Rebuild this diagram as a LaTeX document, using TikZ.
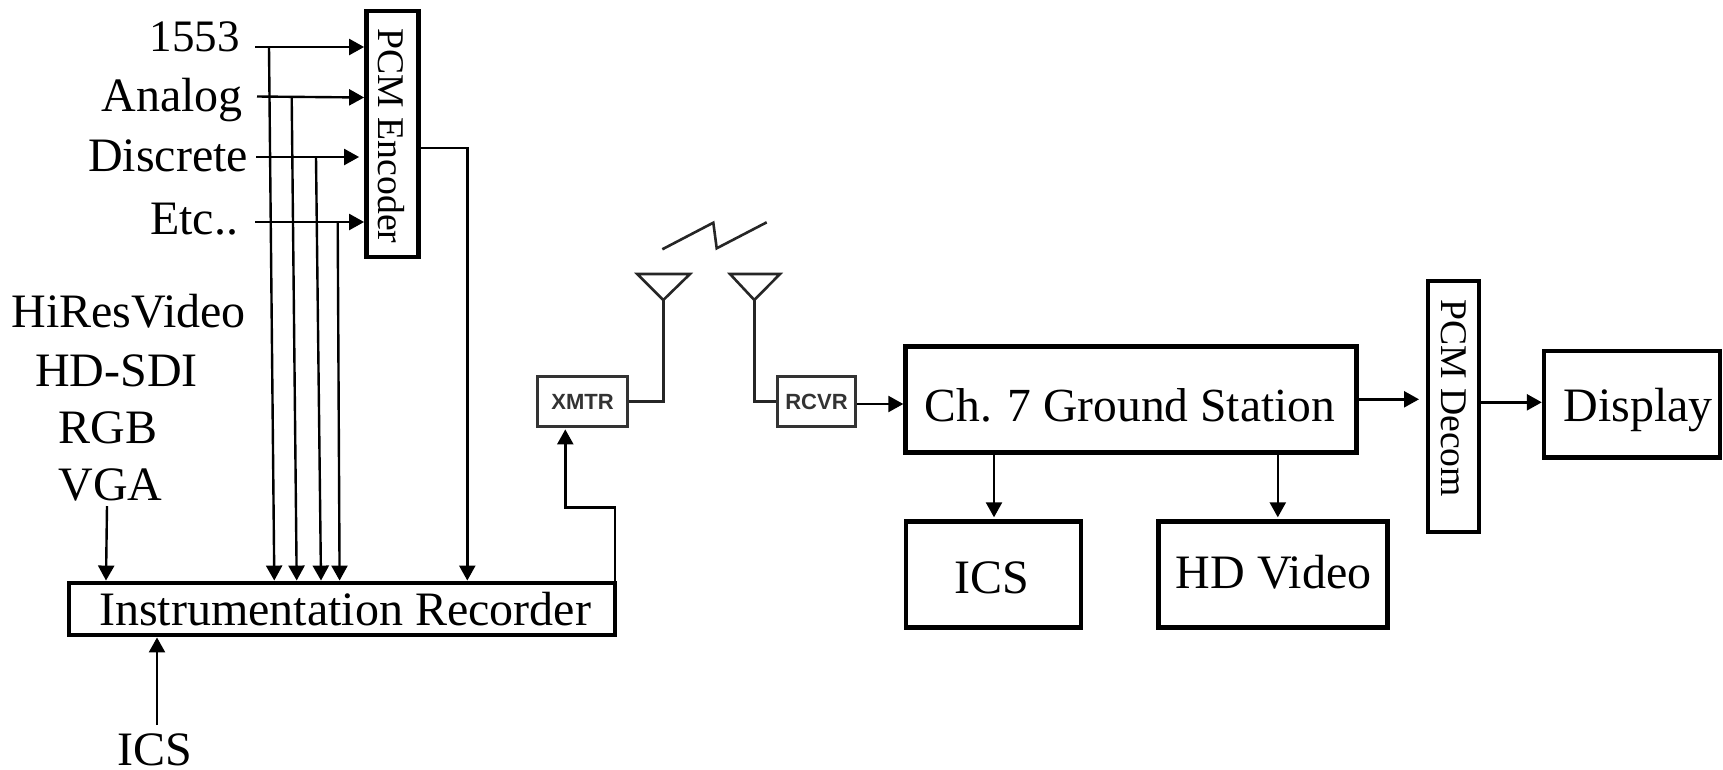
\documentclass[tikz,border=0pt]{standalone}
\usepackage{fontspec}
\setmainfont{Liberation Serif}
\newfontfamily\lsans{Liberation Sans}
\usetikzlibrary{arrows.meta}
\tikzset{
 x=1pt,y=-1pt,
 box/.style={draw=black,line width=4.4pt,inner sep=0pt},
 smallbox/.style={draw=black!80,line width=3.4pt,inner sep=0pt,font=\lsans\bfseries\fontsize{22}{22}\selectfont,text=black!80},
 lbl/.style={inner sep=0pt,anchor=base,font=\fontsize{48}{48}\selectfont},
 vlbl/.style={inner sep=0pt,rotate=-90,font=\fontsize{37.7}{38}\selectfont},
 arr/.style={line width=2.4pt,black,-{Triangle[length=15pt,width=16pt]}},
 ant/.style={line width=2.6pt,black!85,line join=miter},
}
\begin{document}
\begin{tikzpicture}
\useasboundingbox (0,0) rectangle (1723,769);
% boxes
\node[box,minimum width=52pt,minimum height=246pt] (pcm) at (392.3,134) {};
\node[vlbl] (pcmt) at (391,136) {PCM Encoder};
\node[box,minimum width=546pt,minimum height=52.5pt] (rec) at (342,609) {};
\node[lbl] (rect) at (345,625) {Instrumentation Recorder};
\node[smallbox,minimum width=90pt,minimum height=50pt] (xmtr) at (582.5,401.7) {XMTR};
\node[smallbox,minimum width=78pt,minimum height=50pt] (rcvr) at (816.5,401.7) {RCVR};
\node[box,minimum width=451pt,minimum height=106pt] (gs) at (1131,399.3) {};
\node[lbl,font=\fontsize{47.5}{48}\selectfont] (gst) at (1130,421.5) {Ch. 7 Ground Station};
\node[box,minimum width=175pt,minimum height=106pt] (ics2) at (993.7,574.5) {};
\node[lbl] (ics2t) at (992,593) {ICS};
\node[box,minimum width=229pt,minimum height=106pt] (hd) at (1273,574.5) {};
\node[lbl] (hdt) at (1273.6,588) {HD Video};
\node[box,minimum width=51pt,minimum height=251pt] (dec) at (1453.7,406.5) {};
\node[vlbl] (dect) at (1454,398) {PCM Decom};
\node[box,minimum width=176pt,minimum height=106.5pt] (dis) at (1632,404.3) {};
\node[lbl] (dist) at (1638,421) {Display};
% labels
\node[lbl,font=\fontsize{45}{45}\selectfont] (l1) at (194.5,51) {1553};
\node[lbl] (l2) at (172,111) {Analog};
\node[lbl] (l3) at (168,171) {Discrete};
\node[lbl] (l4) at (194,234) {Etc..};
\node[lbl] (h1) at (128.6,327) {HiResVideo};
\node[lbl] (h2) at (116.5,386) {HD-SDI};
\node[lbl] (h3) at (108,443) {RGB};
\node[lbl] (h4) at (110.4,500) {VGA};
\node[lbl] (ics1) at (155,765) {ICS};
% free ends
\coordinate (s1) at (255,47);
\coordinate (s2) at (257,96.5);
\coordinate (s3) at (256,157);
\coordinate (s4) at (255,222);
\coordinate (e2) at (360,97.5);
\coordinate (j1) at (269,47);
\coordinate (j2) at (291.7,97);
\coordinate (j3) at (316,157);
\coordinate (j4) at (337.7,222);
\coordinate (t1) at (274.3,560);
\coordinate (t2) at (296.7,560);
\coordinate (t3) at (321,560);
\coordinate (t4) at (339.6,560);
\coordinate (oy) at (467.3,148);
\coordinate (vga) at (107,506);
\coordinate (vgae) at (106,560);
\coordinate (icss) at (157,725);
\coordinate (up1) at (614.7,507.3);
\coordinate (up2) at (565.3,507.3);
\coordinate (a1) at (663.3,300);
\coordinate (a2) at (754.3,300);
\coordinate (z1) at (662.3,249.3);
\coordinate (z2) at (713.3,222.7);
\coordinate (z3) at (716.7,248.3);
\coordinate (z4) at (766.7,222.3);
% inputs to PCM encoder
\draw[arr] (s1) -- (pcm.west |- s1);
\draw[arr] (s2) -- (pcm.west |- e2);
\draw[arr,shorten >=5pt] (s3) -- (pcm.west |- s3);
\draw[arr] (s4) -- (pcm.west |- s4);
% tees to recorder
\draw[arr] (j1) -- (t1 |- rec.north);
\draw[arr] (j2) -- (t2 |- rec.north);
\draw[arr] (j3) -- (t3 |- rec.north);
\draw[arr] (j4) -- (t4 |- rec.north);
\draw[arr] (pcm.east |- oy) -- (oy) -- (oy |- rec.north);
\draw[arr] (vga) -- (vgae |- rec.north);
\draw[arr] (icss) -- (icss |- rec.south);
% recorder to transmitter
\draw[arr,shorten >=1pt] (up1 |- rec.north) -- (up1) -- (up2) -- (up2 |- xmtr.south);
% antennas
\draw[ant] (xmtr.east) -- (a1 |- xmtr.east) -- (a1);
\draw[ant] (rcvr.west) -- (a2 |- rcvr.west) -- (a2);
\draw[ant] (637.3,274) -- (690,274) -- (a1) -- cycle;
\draw[ant] (730,274) -- (780,274) -- (a2) -- cycle;
\draw[ant] (z1) -- (z2) -- (z3) -- (z4);
% ground side
\coordinate (rx) at (860,404);
\draw[arr] (rcvr.east |- rx) -- (gs.west |- rx);
\coordinate (g1) at (1358,399.3);
\draw[arr,shorten >=7pt] (gs.east |- g1) -- (dec.west |- g1);
\coordinate (g2) at (1483,402.3);
\draw[arr] (dec.east |- g2) -- (dis.west |- g2);
\coordinate (g3) at (994,455);
\coordinate (g4) at (1277.8,455);
\draw[arr,shorten >=2pt] (gs.south -| g3) -- (ics2.north -| g3);
\draw[arr,shorten >=2pt] (gs.south -| g4) -- (hd.north -| g4);
\end{tikzpicture}
\end{document}
